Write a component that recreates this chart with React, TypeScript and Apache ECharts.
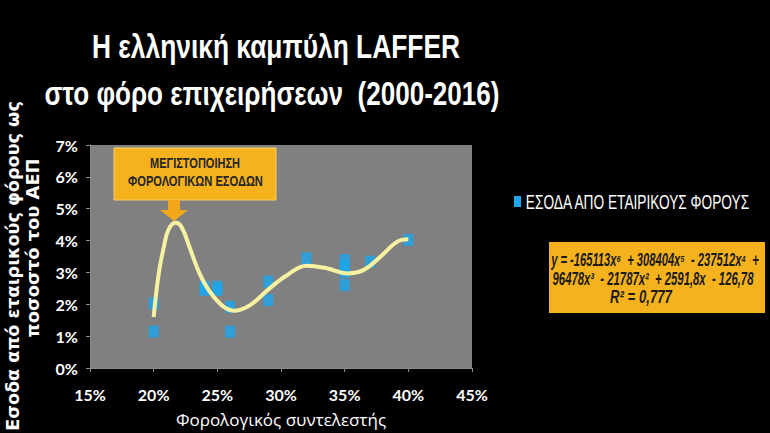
import React, { useEffect, useRef } from "react";
import * as echarts from "echarts";

const titleLines = ["Η ελληνική καμπύλη LAFFER", "στο φόρο επιχειρήσεων  (2000-2016)"];
const xTickLabels = ["15%", "20%", "25%", "30%", "35%", "40%", "45%"];
const seriesName = "ΕΣΟΔΑ ΑΠΟ ΕΤΑΙΡΙΚΟΥΣ ΦΟΡΟΥΣ";
const xAxisName = "Φορολογικός συντελεστής";
const yAxisNameLines = ["Εσοδα από εταιρικούς φόρους ως", "ποσοστό του ΑΕΠ"];
const annotationLines = ["ΜΕΓΙΣΤΟΠΟΙΗΣΗ", "ΦΟΡΟΛΟΓΙΚΩΝ ΕΣΟΔΩΝ"];
const equationLines = [
  "y = -165113x⁶  + 308404x⁵  - 237512x⁴  +",
  "96478x³  - 21787x²  + 2591,8x  - 126,78",
  "R² = 0,777",
];

// observed data: tax rate (%) vs revenue (% of GDP)
const taxRate = [20, 20, 24, 24, 25, 25, 26, 26, 29, 29, 32, 35, 35, 35, 35, 37, 40];
const revenue = [1.14, 2.03, 2.55, 2.45, 2.55, 2.45, 1.92, 1.14, 2.71, 2.13, 3.44, 3.39, 3.2, 3.01, 2.6, 3.34, 4.02];

// trend curve
const trendX = [20, 20.4, 20.8, 21.15, 21.7, 22.2, 22.9, 23.6, 24.4, 25.5, 26.4, 27.6, 29.1, 30.5, 32, 33.6, 35.2, 36.5, 37.8, 39.1, 40];
const trendY = [1.6, 2.97, 3.8, 4.33, 4.56, 4.42, 3.7, 2.97, 2.4, 1.92, 1.8, 1.98, 2.5, 2.92, 3.21, 3.13, 2.97, 3.08, 3.49, 3.96, 4.04];

const SANS = "'Liberation Sans', Arial, sans-serif";

let measureCtx: CanvasRenderingContext2D | null = null;
function textWidth(text: string, font: string): number {
  if (!measureCtx) measureCtx = document.createElement("canvas").getContext("2d");
  measureCtx!.font = font;
  return measureCtx!.measureText(text).width;
}

// a text element squeezed horizontally to a given width
function fitted(
  text: string,
  cx: number,
  cy: number,
  width: number,
  fontSize: number,
  opts: { weight?: string; style?: string; family?: string; fill?: string; rotation?: number } = {}
) {
  const weight = opts.weight || "normal";
  const fstyle = opts.style || "normal";
  const family = opts.family || SANS;
  const w = textWidth(text, `${fstyle} ${weight} ${fontSize}px ${family}`);
  const s = width / w;
  const rot = opts.rotation || 0;
  return {
    type: "text",
    x: cx,
    y: cy,
    rotation: rot,
    scaleX: s,
    style: {
      text,
      fill: opts.fill || "#ffffff",
      fontSize,
      fontWeight: weight,
      fontStyle: fstyle,
      fontFamily: family,
      align: "center",
      verticalAlign: "middle",
    },
  };
}

export default function App() {
  const ref = useRef<HTMLDivElement>(null);
  useEffect(() => {
    document.body.style.margin = "0";
    document.body.style.background = "#000";
    const chart = echarts.init(ref.current!, null, { renderer: "svg" });
    const option: any = {
      animation: false,
      backgroundColor: "#000000",
      grid: {
        left: 90,
        right: 298,
        top: 145,
        bottom: 65,
        show: true,
        backgroundColor: "#808080",
        borderWidth: 0,
        outerBoundsMode: "none",
        containLabel: false,
      },
      xAxis: {
        type: "value",
        min: 15,
        max: 45,
        interval: 5,
        splitLine: { show: false },
        axisLine: { lineStyle: { color: "#8c8c8c" } },
        axisTick: { lineStyle: { color: "#8c8c8c" }, length: 4 },
        axisLabel: {
          formatter: (v: number) => xTickLabels[Math.round((v - 15) / 5)],
          color: "#ffffff",
          fontSize: 16,
          fontWeight: "bold",
          fontFamily: "Lato, 'Open Sans', sans-serif",
          margin: 18,
        },
        name: xAxisName,
        nameLocation: "middle",
        nameGap: 43,
        nameTextStyle: { color: "#ffffff", fontSize: 17, fontFamily: "'Open Sans', 'Noto Sans', sans-serif" },
      },
      yAxis: {
        type: "value",
        min: 0,
        max: 7,
        interval: 1,
        splitLine: { show: false },
        axisLine: { show: true, lineStyle: { color: "#8c8c8c" } },
        axisTick: { show: true, lineStyle: { color: "#8c8c8c" }, length: 4 },
        axisLabel: {
          formatter: "{value}%",
          color: "#ffffff",
          fontSize: 16,
          fontWeight: "bold",
          fontFamily: "Lato, 'Open Sans', sans-serif",
          margin: 12,
        },
      },
      series: [
        {
          name: seriesName,
          type: "scatter",
          symbol: "rect",
          symbolSize: [10, 12],
          itemStyle: { color: "#1ca6ee" },
          data: taxRate.map((x, i) => [x, revenue[i]]),
          z: 2,
        },
        {
          name: "trend",
          type: "line",
          smooth: 0.4,
          showSymbol: false,
          lineStyle: { color: "#f7f2a2", width: 4 },
          data: trendX.map((x, i) => [x, trendY[i]]),
          z: 3,
        },
      ],
      graphic: [
        fitted(titleLines[0], 276, 46, 368, 33, { weight: "bold" }),
        fitted(titleLines[1], 272, 93, 455, 33, { weight: "bold" }),
        fitted(yAxisNameLines[0], 12, 266, 330, 18, {
          weight: "bold",
          family: "'DejaVu Sans', sans-serif",
          rotation: Math.PI / 2,
        }),
        fitted(yAxisNameLines[1], 32, 248, 179, 18, {
          weight: "bold",
          family: "'DejaVu Sans', sans-serif",
          rotation: Math.PI / 2,
        }),
        {
          type: "rect",
          shape: { x: 114, y: 148, width: 162, height: 52 },
          style: { fill: "#f5b21c", stroke: "#f9cf6a", lineWidth: 1 },
        },
        fitted(annotationLines[0], 195, 164, 90, 14, { fill: "#262626", weight: "bold" }),
        fitted(annotationLines[1], 195.5, 182, 135, 14, { fill: "#262626", weight: "bold" }),
        {
          type: "polygon",
          shape: {
            points: [
              [168, 200],
              [180, 200],
              [180, 210],
              [188, 210],
              [174, 221],
              [160, 210],
              [168, 210],
            ],
          },
          style: { fill: "#f2a81a" },
        },
        // legend
        {
          type: "rect",
          shape: { x: 514, y: 196, width: 7, height: 11 },
          style: { fill: "#1ca6ee" },
        },
        fitted(seriesName, 637.5, 202, 225, 20),
        // equation box
        {
          type: "rect",
          shape: { x: 549, y: 242, width: 216, height: 71 },
          style: { fill: "#f5b21c" },
        },
        fitted(equationLines[0], 655, 259, 208, 18, { weight: "bold", style: "italic", fill: "#1a1a1a" }),
        fitted(equationLines[1], 653, 278, 201, 18, { weight: "bold", style: "italic", fill: "#1a1a1a" }),
        fitted(equationLines[2], 641, 297, 62, 18, { weight: "bold", style: "italic", fill: "#1a1a1a" }),
      ],
    };
    chart.setOption(option);
    return () => chart.dispose();
  }, []);
  return (
    <div
      ref={ref}
      style={{ position: "fixed", left: 0, top: 0, width: 770, height: 433 }}
    />
  );
}
